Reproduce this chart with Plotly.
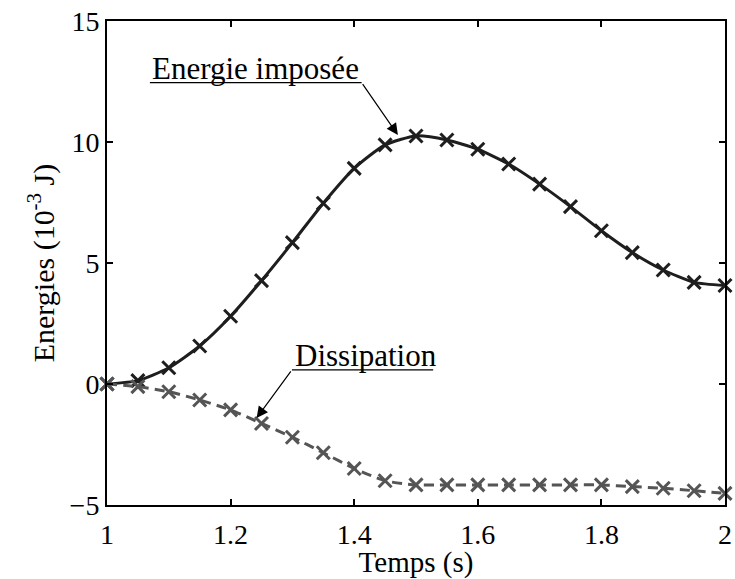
import plotly.graph_objects as go

# ---- data ----
temps = [1.0, 1.05, 1.1, 1.15, 1.2, 1.25, 1.3, 1.35, 1.4, 1.45, 1.5,
         1.55, 1.6, 1.65, 1.7, 1.75, 1.8, 1.85, 1.9, 1.95, 2.0]
energie_imposee = [0.0, 0.14, 0.67, 1.57, 2.8, 4.27, 5.84, 7.47, 8.91, 9.88, 10.25,
                   10.08, 9.7, 9.09, 8.26, 7.33, 6.33, 5.43, 4.71, 4.20, 4.07]
dissipation = [0.0, -0.11, -0.32, -0.66, -1.07, -1.63, -2.20, -2.84, -3.49, -4.0, -4.17,
               -4.17, -4.17, -4.17, -4.17, -4.17, -4.17, -4.24, -4.31, -4.41, -4.52]
x_ticks = [1, 1.2, 1.4, 1.6, 1.8, 2]
x_tick_labels = ["1", "1.2", "1.4", "1.6", "1.8", "2"]
y_ticks = [-5, 0, 5, 10, 15]
y_tick_labels = ["\u22125", "0", "5", "10", "15"]

FONT = "Liberation Serif, Times New Roman, serif"

fig = go.Figure()
fig.add_trace(go.Scatter(
    x=temps, y=energie_imposee, mode="lines+markers", name="Energie imposée",
    line=dict(color="#1e1e1e", width=3, shape="spline", smoothing=0.6),
    marker=dict(symbol="x-thin", size=13, line=dict(color="#1e1e1e", width=3)),
    cliponaxis=False,
))
fig.add_trace(go.Scatter(
    x=temps, y=dissipation, mode="lines+markers", name="Dissipation",
    line=dict(color="#555555", width=3, dash="10px,6px", shape="spline", smoothing=0.6),
    marker=dict(symbol="x-thin", size=13, line=dict(color="#555555", width=3)),
    cliponaxis=False,
))

# labels with underline and arrow
fig.add_annotation(x=1.0694, y=13.03, xref="x", yref="y", text="Energie imposée",
                   showarrow=False, xanchor="left", yanchor="middle",
                   font=dict(family=FONT, size=31, color="black"))
fig.add_shape(type="line", x0=1.0694, x1=1.412, y0=12.45, y1=12.45,
              xref="x", yref="y", line=dict(color="black", width=1.3))
fig.add_annotation(x=1.4707, y=10.29, ax=1.412, ay=12.45, axref="x", ayref="y",
                   xref="x", yref="y", text="", showarrow=True, arrowhead=2,
                   arrowsize=1.9, arrowwidth=1.2, arrowcolor="black", standoff=0)

fig.add_annotation(x=1.3008, y=1.17, xref="x", yref="y", text="Dissipation",
                   showarrow=False, xanchor="left", yanchor="middle",
                   font=dict(family=FONT, size=31, color="black"))
fig.add_shape(type="line", x0=1.2992, x1=1.5278, y0=0.58, y1=0.58,
              xref="x", yref="y", line=dict(color="black", width=1.3))
fig.add_annotation(x=1.2421, y=-1.405, ax=1.2992, ay=0.58, axref="x", ayref="y",
                   xref="x", yref="y", text="", showarrow=True, arrowhead=2,
                   arrowsize=1.9, arrowwidth=1.2, arrowcolor="black", standoff=0)

axis_common = dict(showline=True, linecolor="black", linewidth=2, mirror="ticks",
                   ticks="inside", ticklen=6, tickwidth=1.5, tickcolor="black",
                   showgrid=False, zeroline=False,
                   tickfont=dict(family=FONT, size=28, color="black"))

fig.update_xaxes(range=[1, 2], tickvals=x_ticks, ticktext=x_tick_labels,
                 ticklabelstandoff=3,
                 title=dict(text="Temps (s)", font=dict(family=FONT, size=29, color="black"),
                            standoff=5),
                 **axis_common)
fig.update_yaxes(range=[-5, 15], tickvals=y_ticks, ticktext=y_tick_labels,
                 title=dict(text="Energies (10<sup>-3</sup> J)",
                            font=dict(family=FONT, size=30, color="black"), standoff=6),
                 **axis_common)

fig.update_layout(
    width=735, height=579,
    margin=dict(l=107, r=10, t=21, b=74, autoexpand=False),
    paper_bgcolor="white", plot_bgcolor="white",
    showlegend=False,
    font=dict(family=FONT, color="black"),
)

fig.write_html("out.html", config={"displayModeBar": False},
               post_script="document.body.style.margin='0';document.body.style.overflow='hidden';")
